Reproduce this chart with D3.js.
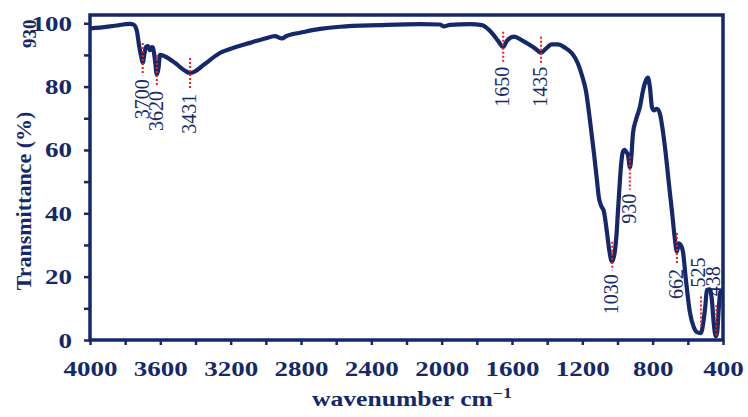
<!DOCTYPE html>
<html>
<head>
<meta charset="utf-8">
<script src="https://cdn.jsdelivr.net/npm/d3@7.9.0/dist/d3.min.js"></script>
<style>
  html, body { margin: 0; padding: 0; background: #ffffff; }
  svg { display: block; }
</style>
</head>
<body>
<div id="chart"></div>
<script>
// spectrum: wavenumber (cm-1) and transmittance (%)
const wavenumber = [
  4000, 3943, 3858, 3773, 3750, 3733, 3721, 3707, 3700, 3690, 3682, 3670, 3659, 3650, 3642,
  3630, 3620, 3610, 3602, 3573, 3517, 3460, 3431, 3403, 3346, 3261, 3175, 3090, 3005, 2948,
  2908, 2885, 2851, 2806, 2692, 2578, 2351, 2123, 2010, 1987, 1953, 1839, 1771, 1737, 1708,
  1680, 1651, 1628, 1588, 1543, 1498, 1463, 1435, 1407, 1373, 1339, 1299, 1259, 1225, 1202,
  1179, 1157, 1134, 1117, 1106, 1094, 1077, 1060, 1046, 1031, 1014, 1006, 997, 989, 980,
  969, 960, 952, 941, 929, 921, 912, 895, 872, 856, 838, 827, 816, 804, 793,
  776, 759, 742, 725, 708, 690, 676, 662, 651, 640, 628, 611, 589, 566, 546,
  526, 512, 500, 492, 475, 464, 453, 441, 433, 424, 415, 401
];
const transmittance = [
  98.4, 98.6, 99.2, 99.8, 99.5, 97.5, 93, 89, 87.5, 90.5, 92.5, 92.8, 91.5, 92.5, 92.3,
  88, 83.8, 86, 90, 89.5, 87.5, 85, 84.3, 84.8, 87.2, 90.6, 92.4, 93.8, 95.2, 95.9,
  95.2, 95.9, 96.5, 97, 98.2, 98.9, 99.4, 99.7, 99.6, 99.0, 99.5, 99.7, 99.4, 98.2, 96.5,
  94.5, 92.5, 94.5, 95.8, 94.6, 93.1, 91.8, 90.6, 92, 93.3, 93.3, 92.3, 90.5, 87.3, 83.5,
  78.5, 69.5, 59, 50.5, 45, 42.5, 40.5, 34, 28, 24.7, 28.4, 33, 41, 48, 55,
  59.5, 60, 59.5, 58.5, 54.5, 58, 65.3, 69.5, 73.7, 78.5, 82, 82.8, 80, 73.5, 72.5,
  73, 71.5, 66, 58.5, 49.5, 40.5, 33, 27.9, 30.5, 30, 28, 19, 9, 4, 2.4,
  2.2, 5.5, 11, 15.8, 16, 13, 5.5, 1.2, 2.5, 10, 15.2, 16
];

// marked bands: red dotted line spans (transmittance) and label text
const peaks = [3700, 3620, 3431, 1650, 1435, 1030, 930, 662, 525, 438];
const peakLineTop = [93.8, 90, 89, 97.3, 95.7, 31, 57.9, 33.8, 13.7, 11];
const peakLineBottom = [83.6, 79.9, 79, 87.5, 87.5, 22, 47.4, 23.7, 3.8, 1];
const labelsAbove = [525, 438];

const xTicks = d3.range(400, 4001, 200);
const yTicks = d3.range(0, 101, 10);

const width = 748, height = 417;
const navy = "#15296a";
const serif = '"Liberation Serif", "Times New Roman", serif';
const stretch = 1.35;   // the figure's lettering is wide, as if scaled sideways

const x = d3.scaleLinear().domain([4000, 400]).range([90, 723]);
const y = d3.scaleLinear().domain([0, 102.6]).range([340, 15]);

const svg = d3.select("#chart").append("svg")
  .attr("width", width)
  .attr("height", height);

// axes
const xAxis = svg.append("g")
  .attr("transform", `translate(0,${y(0)})`)
  .call(d3.axisBottom(x).tickValues(xTicks).tickSize(5)
    .tickFormat(d => d % 400 === 0 ? d : ""));

xAxis.selectAll("text")
  .attr("y", 0).attr("dy", null)
  .attr("transform", `translate(0,36) scale(${stretch},1)`);

const yAxis = svg.append("g")
  .attr("transform", `translate(${x(4000)},0)`)
  .call(d3.axisLeft(y).tickValues(yTicks).tickSize(6)
    .tickFormat(d => d % 20 === 0 ? d : ""));

yAxis.selectAll("text")
  .attr("x", 0).attr("dy", "0.35em")
  .attr("transform", `translate(-18,0) scale(${stretch},1)`);

svg.selectAll(".tick text")
  .style("font-family", serif)
  .style("font-size", "20px")
  .style("font-weight", "bold")
  .attr("fill", navy);

svg.selectAll(".domain").remove();
svg.selectAll(".tick line").attr("stroke", navy).attr("stroke-width", 2.5);

// frame
svg.append("rect")
  .attr("x", x(4000))
  .attr("y", y.range()[1])
  .attr("width", x(400) - x(4000))
  .attr("height", y(0) - y.range()[1])
  .attr("fill", "none")
  .attr("stroke", navy)
  .attr("stroke-width", 3.5);

// spectrum
const points = wavenumber.map((w, i) => [w, transmittance[i]]);
const line = d3.line()
  .x(d => x(d[0]))
  .y(d => y(d[1]))
  .curve(d3.curveMonotoneX);

svg.append("path")
  .datum(points)
  .attr("d", line)
  .attr("fill", "none")
  .attr("stroke", navy)
  .attr("stroke-width", 4.2)
  .attr("stroke-linejoin", "round");

// band markers
peaks.forEach((p, i) => {
  svg.append("line")
    .attr("x1", x(p)).attr("x2", x(p))
    .attr("y1", y(peakLineTop[i])).attr("y2", y(peakLineBottom[i]))
    .attr("stroke", "#ff1a1a")
    .attr("stroke-width", 2)
    .attr("stroke-dasharray", "2,2");

  const above = labelsAbove.includes(p);
  const ly = above ? y(peakLineTop[i]) - 9 : y(peakLineBottom[i]) + 4;
  svg.append("text")
    .attr("transform", `translate(${x(p) - (above ? 3 : 1)},${ly}) rotate(-90)`)
    .attr("text-anchor", above ? "start" : "end")
    .attr("dy", "0.35em")
    .attr("fill", navy)
    .style("font-family", serif)
    .style("font-size", "20px")
    .text(p);
});

// stray label at top left of the figure
svg.append("text")
  .attr("transform", "translate(29,48) rotate(-90)")
  .attr("dy", "0.35em")
  .attr("fill", navy)
  .style("font-family", serif)
  .style("font-size", "19px")
  .style("font-weight", "bold")
  .text("930");

// axis titles
svg.append("text")
  .attr("transform", "translate(23,201) rotate(-90)")
  .attr("text-anchor", "middle")
  .attr("dy", "0.35em")
  .attr("fill", navy)
  .style("font-family", serif)
  .style("font-size", "22px")
  .style("font-weight", "bold")
  .text("Transmittance (%)");

const xt = svg.append("text")
  .attr("transform", `translate(412,406) scale(1.28,1)`)
  .attr("text-anchor", "middle")
  .attr("fill", navy)
  .style("font-family", serif)
  .style("font-size", "20px")
  .style("font-weight", "bold");
xt.append("tspan").text("wavenumber cm");
xt.append("tspan").attr("dy", "-8").style("font-size", "14px").text("\u22121");
</script>
</body>
</html>
